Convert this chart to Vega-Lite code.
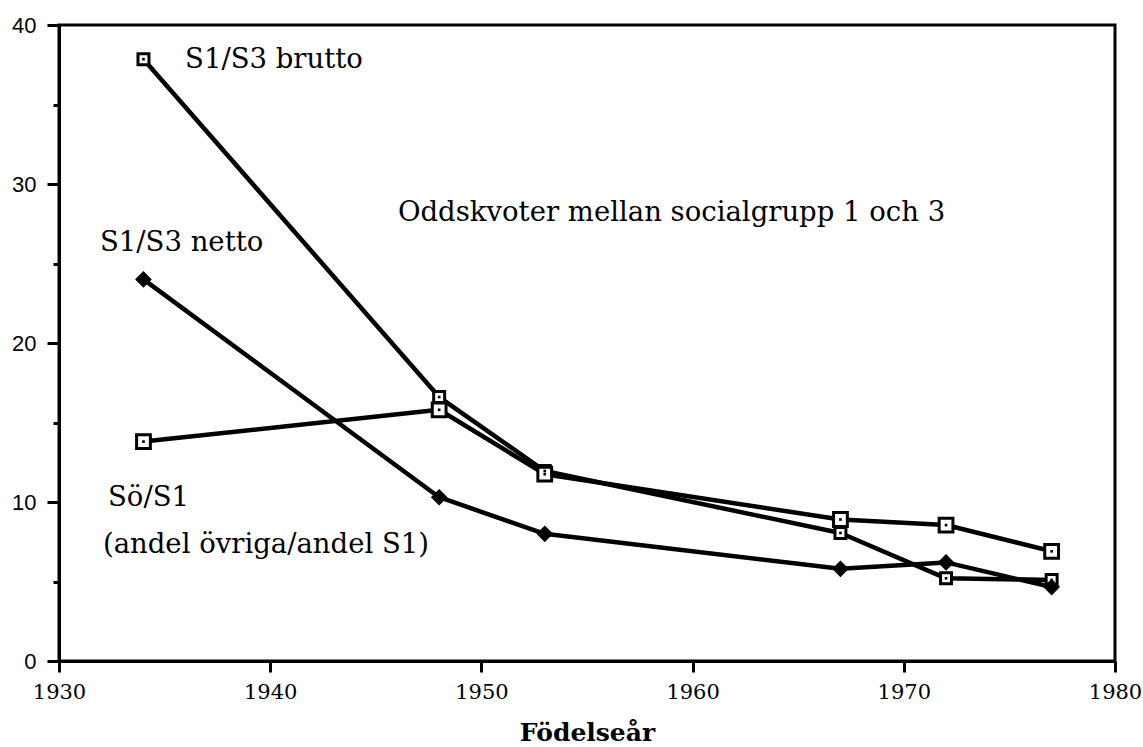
{
  "$schema": "https://vega.github.io/schema/vega-lite/v6.json",
  "width": 1056,
  "height": 636,
  "autosize": "none",
  "padding": {"left": 59, "top": 25, "right": 28, "bottom": 86},
  "background": "white",
  "config": {
    "view": {"stroke": "black", "strokeWidth": 3},
    "axis": {"domainColor": "black", "domainWidth": 3, "tickColor": "black", "tickWidth": 3, "grid": false, "labelColor": "black", "titleColor": "black", "labelFlush": false},
    "axisX": {"labelFont": "DejaVu Serif", "labelFontSize": 21, "labelPadding": 9, "tickSize": 11,
              "titleFont": "DejaVu Serif", "titleFontSize": 25, "titleFontWeight": "bold", "titlePadding": 18},
    "axisY": {"labelFont": "Liberation Sans", "labelFontSize": 22, "labelPadding": 11}
  },
  "datasets": {
    "series": [
      {"serie": "S1/S3 brutto", "year": 1934, "value": 37.85},
      {"serie": "S1/S3 brutto", "year": 1948, "value": 16.6},
      {"serie": "S1/S3 brutto", "year": 1953, "value": 11.95},
      {"serie": "S1/S3 brutto", "year": 1967, "value": 8.05},
      {"serie": "S1/S3 brutto", "year": 1972, "value": 5.2},
      {"serie": "S1/S3 brutto", "year": 1977, "value": 5.1},
      {"serie": "S1/S3 netto", "year": 1934, "value": 24.0},
      {"serie": "S1/S3 netto", "year": 1948, "value": 10.3},
      {"serie": "S1/S3 netto", "year": 1953, "value": 8.0},
      {"serie": "S1/S3 netto", "year": 1967, "value": 5.8},
      {"serie": "S1/S3 netto", "year": 1972, "value": 6.2},
      {"serie": "S1/S3 netto", "year": 1977, "value": 4.65},
      {"serie": "Sö/S1", "year": 1934, "value": 13.8},
      {"serie": "Sö/S1", "year": 1948, "value": 15.8},
      {"serie": "Sö/S1", "year": 1953, "value": 11.75},
      {"serie": "Sö/S1", "year": 1967, "value": 8.9},
      {"serie": "Sö/S1", "year": 1972, "value": 8.55},
      {"serie": "Sö/S1", "year": 1977, "value": 6.9}
    ],
    "labels": [
      {"text": "S1/S3 brutto", "year": 1935.97, "value": 37.8},
      {"text": "Oddskvoter mellan socialgrupp 1 och 3", "year": 1946.05, "value": 28.2},
      {"text": "S1/S3 netto", "year": 1931.94, "value": 26.3},
      {"text": "Sö/S1", "year": 1932.32, "value": 10.25},
      {"text": "(andel övriga/andel S1)", "year": 1932.08, "value": 7.3}
    ]
  },
  "layer": [
    {
      "data": {"name": "series"},
      "mark": {"type": "line", "strokeJoin": "round"},
      "encoding": {
        "x": {"field": "year", "type": "quantitative",
              "scale": {"domain": [1930, 1980], "nice": false, "zero": false},
              "axis": {"values": [1930, 1940, 1950, 1960, 1970, 1980], "format": "d", "title": "Födelseår"}},
        "y": {"field": "value", "type": "quantitative",
              "scale": {"domain": [0, 40], "nice": false},
              "axis": {"values": [0, 5, 10, 15, 20, 25, 30, 35, 40],
                       "labelExpr": "datum.value % 10 === 0 ? datum.label : ''",
                       "tickSize": {"condition": {"test": "datum.value % 10 === 0", "value": 12}, "value": 6},
                       "title": null}},
        "color": {"field": "serie", "type": "nominal", "scale": {"range": ["black", "black", "black"]}, "legend": null},
        "strokeWidth": {"field": "serie", "type": "nominal", "scale": {"domain": ["S1/S3 brutto", "S1/S3 netto", "Sö/S1"], "range": [4.5, 4.5, 3.2]}, "legend": null}
      }
    },
    {
      "data": {"name": "series"},
      "mark": {"type": "point", "filled": false, "strokeWidth": 3, "opacity": 1},
      "encoding": {
        "x": {"field": "year", "type": "quantitative"},
        "y": {"field": "value", "type": "quantitative"},
        "shape": {"field": "serie", "type": "nominal", "scale": {"domain": ["S1/S3 brutto", "S1/S3 netto", "Sö/S1"], "range": ["square", "diamond", "square"]}, "legend": null},
        "fill": {"field": "serie", "type": "nominal", "scale": {"domain": ["S1/S3 brutto", "S1/S3 netto", "Sö/S1"], "range": ["white", "black", "white"]}, "legend": null},
        "stroke": {"value": "black"},
        "size": {"field": "serie", "type": "nominal", "scale": {"domain": ["S1/S3 brutto", "S1/S3 netto", "Sö/S1"], "range": [120, 190, 120]}, "legend": null}
      }
    },
    {
      "data": {"name": "series"},
      "transform": [{"filter": "datum.serie !== 'S1/S3 netto'"}],
      "mark": {"type": "square", "color": "black", "size": 7, "opacity": 1},
      "encoding": {
        "x": {"field": "year", "type": "quantitative"},
        "y": {"field": "value", "type": "quantitative"}
      }
    },
    {
      "data": {"name": "labels"},
      "mark": {"type": "text", "align": "left", "baseline": "middle", "font": "DejaVu Serif", "fontSize": 27.5, "color": "black"},
      "encoding": {
        "x": {"field": "year", "type": "quantitative"},
        "y": {"field": "value", "type": "quantitative"},
        "text": {"field": "text"}
      }
    }
  ]
}
